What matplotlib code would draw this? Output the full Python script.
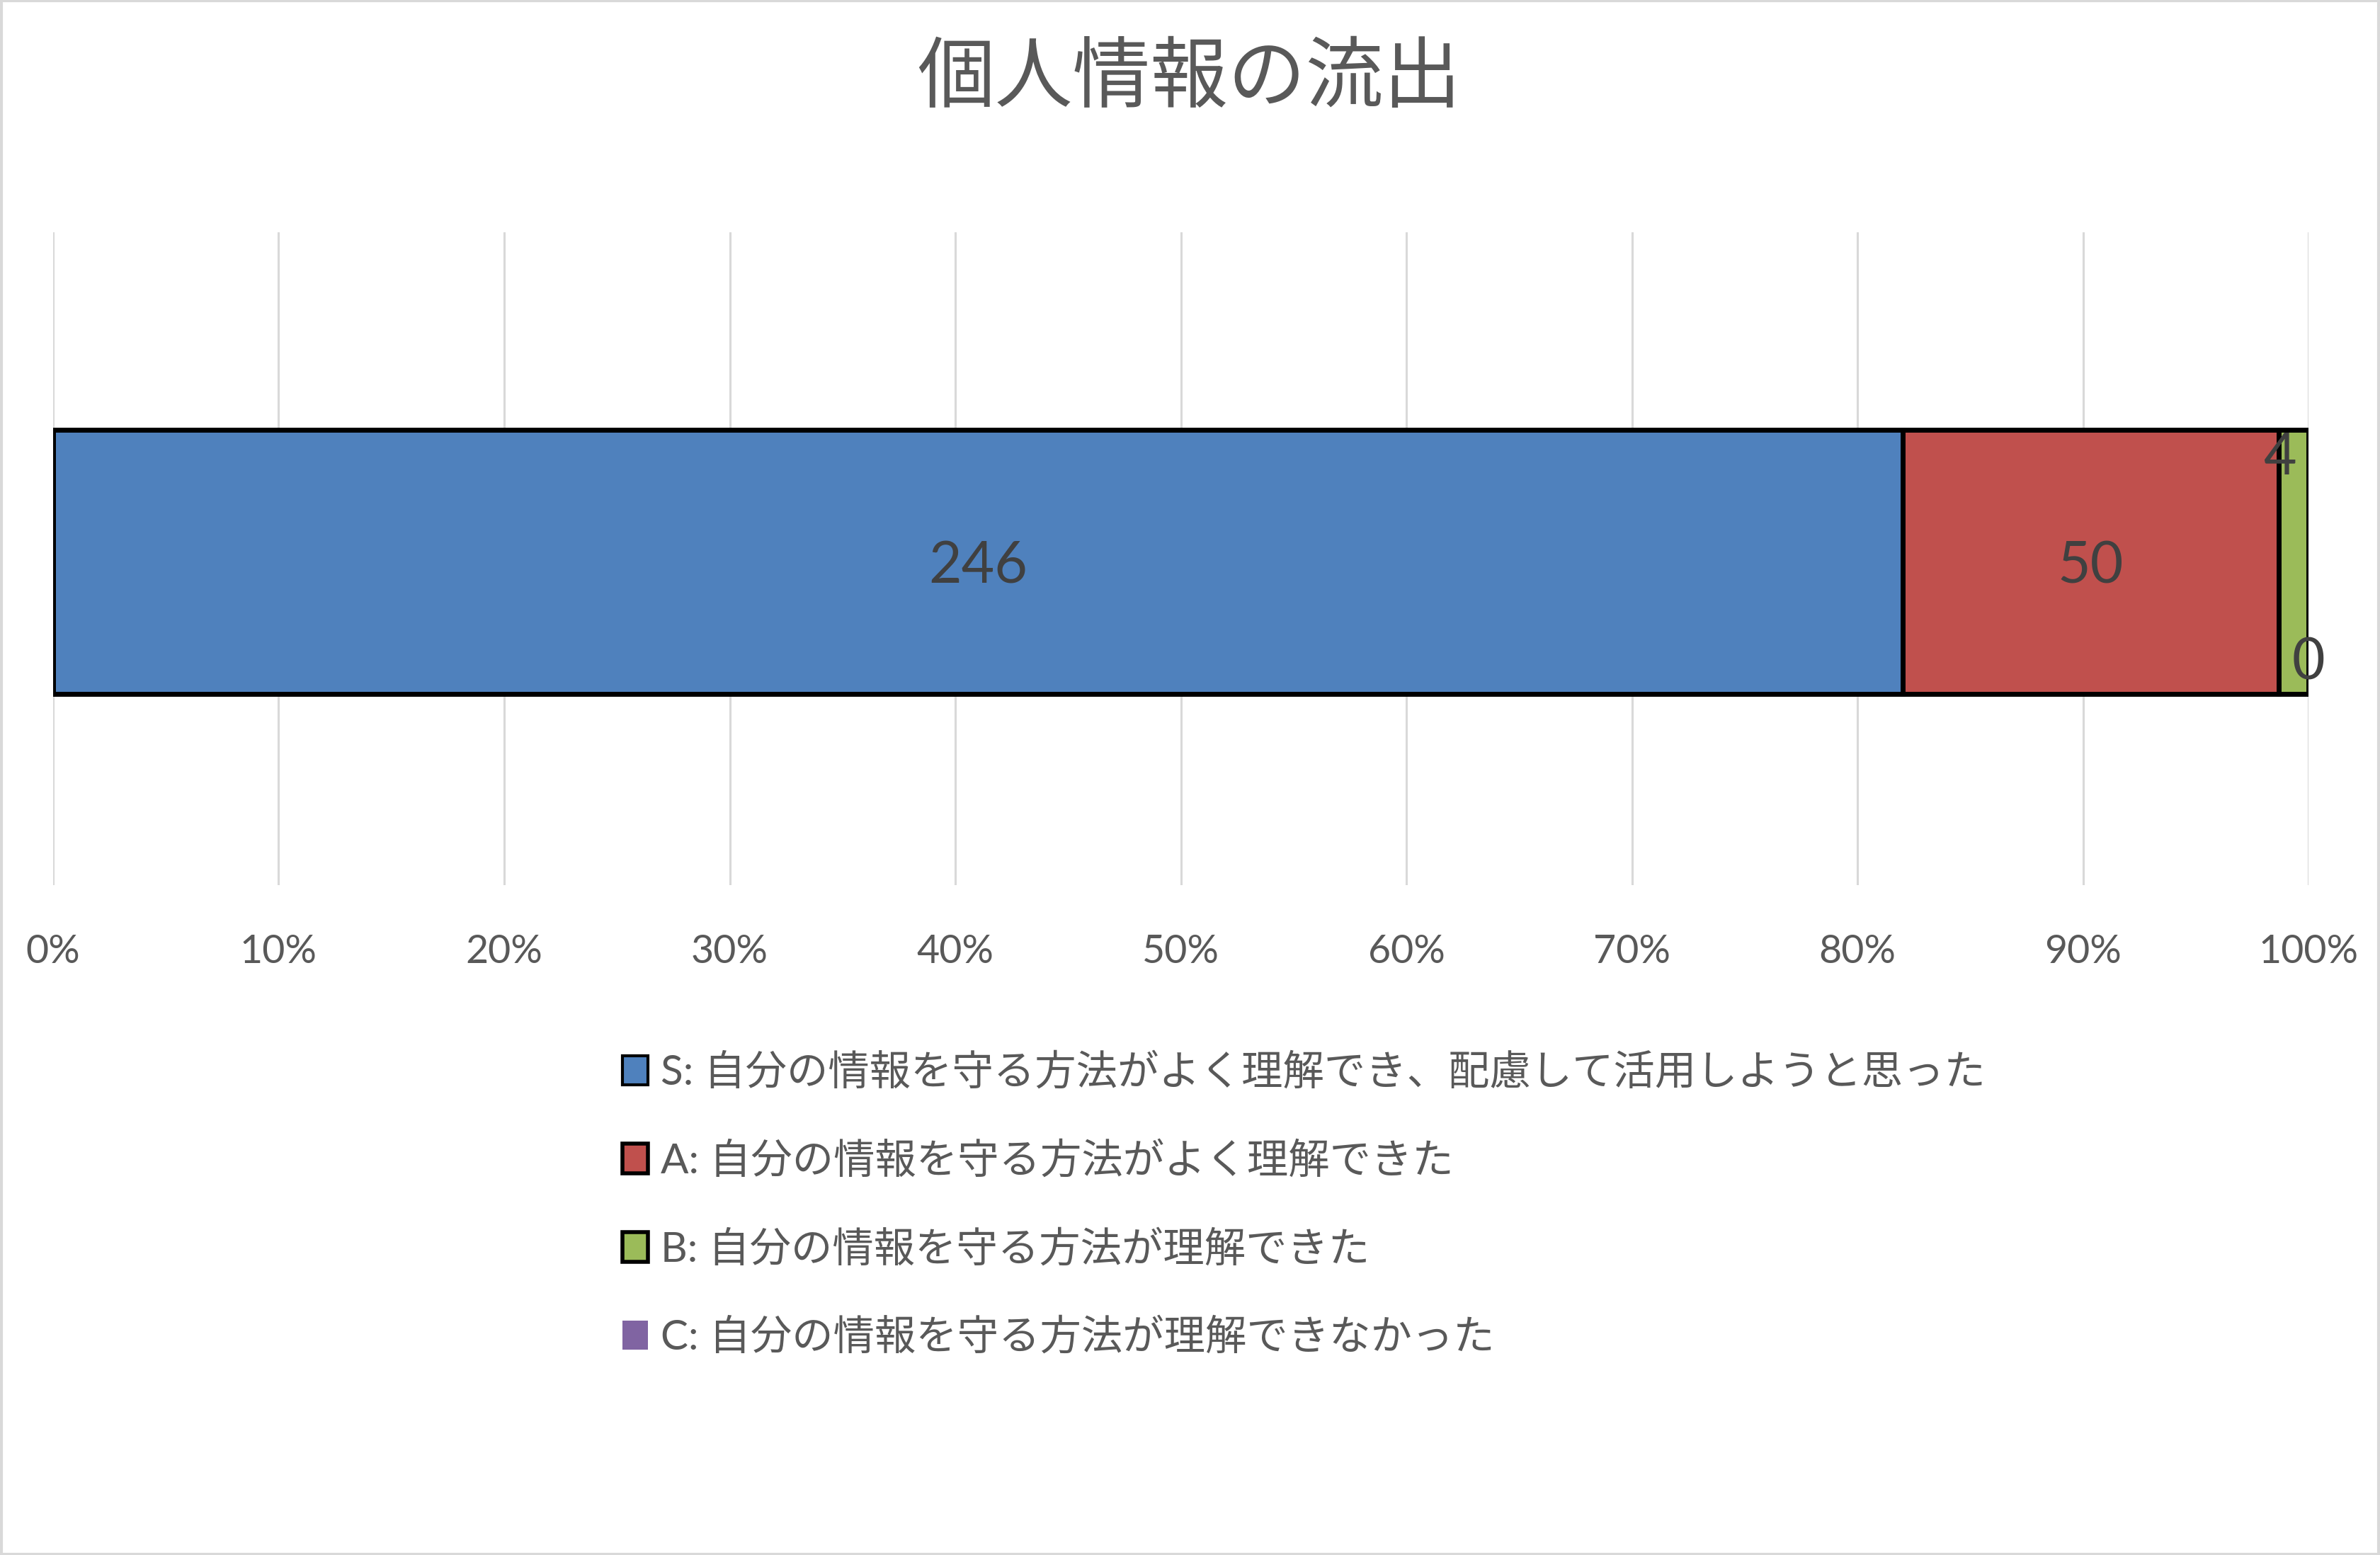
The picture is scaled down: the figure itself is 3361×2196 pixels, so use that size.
import matplotlib
matplotlib.use("Agg")
import matplotlib.pyplot as plt
import matplotlib.patches as mpatches
import numpy as np

plt.rcParams["font.family"] = ["Lato", "Noto Sans CJK JP", "DejaVu Sans"]

TITLE = "個人情報の流出"
labels = [
    "S: 自分の情報を守る方法がよく理解でき、配慮して活用しようと思った",
    "A: 自分の情報を守る方法がよく理解できた",
    "B: 自分の情報を守る方法が理解できた",
    "C: 自分の情報を守る方法が理解できなかった",
]
counts = [246, 50, 4, 0]
colors = ["#4F81BD", "#C0504D", "#9BBB59", "#8064A2"]
ticks = np.arange(0, 1.01, 0.1)
tick_labels = [f"{int(round(t * 100))}%" for t in ticks]

TEXT = "#595959"
LABEL = "#404040"

fig = plt.figure(figsize=(33.61, 21.96), dpi=100)
ax = fig.add_axes([0.0223, 0.4308, 0.9477, 0.4198])

total = sum(counts)
shares = [c / total for c in counts]
lefts = np.concatenate([[0], np.cumsum(shares)[:-1]])
bar_y = -0.005
bar_h = 0.404

for i, (s, l, c) in enumerate(zip(shares, lefts, colors)):
    if counts[i] == 0:
        continue
    ax.barh(bar_y, s, left=l, height=bar_h, color=c, edgecolor="black",
            linewidth=5, zorder=3)

# data labels (Excel puts the tiny ones at odd spots)
label_pos = [(0, -0.012, 0), (0, -0.012, 0), (-14, 0.154, 0), (0, -0.16, 1)]
for i, (dx, y, edge) in enumerate(label_pos):
    x = lefts[i] + shares[i] if edge else lefts[i] + shares[i] / 2
    ax.annotate(str(counts[i]), (x, y), xytext=(dx, 0), textcoords="offset points",
                ha="center", va="center", fontsize=58, color=LABEL, zorder=4)

ax.set_xlim(0, 1)
ax.set_ylim(-0.5, 0.5)
ax.set_xticks(ticks)
ax.set_xticklabels(tick_labels)
ax.set_yticks([])
ax.tick_params(axis="x", length=0, pad=50, labelsize=40, labelcolor=TEXT)
ax.grid(axis="x", color="#D9D9D9", linewidth=2.2, zorder=0)
for sp in ax.spines.values():
    sp.set_visible(False)

fig.text(0.4995, 0.949, TITLE, ha="center", va="center", fontsize=79,
         color=TEXT, family=["Noto Sans CJK JP"])

handles = []
for i, c in enumerate(colors):
    if counts[i] == 0:
        handles.append(mpatches.Patch(facecolor=c, edgecolor="none"))
    else:
        handles.append(mpatches.Patch(facecolor=c, edgecolor="black",
                                      linewidth=4 if i else 3))
leg = fig.legend(handles, labels, loc="upper left",
                 bbox_to_anchor=(0.2615, 1 - 1487 / 2196), frameon=False,
                 fontsize=42, handlelength=0.62, handleheight=0.72,
                 handletextpad=0.3, labelspacing=1.2, borderpad=0,
                 borderaxespad=0)
for t in leg.get_texts():
    t.set_color(TEXT)

fig.add_artist(mpatches.Rectangle((0.0005, 0.0005), 0.999, 0.999,
                                  transform=fig.transFigure, fill=False,
                                  edgecolor="#D9D9D9", linewidth=3))

fig.savefig("out.png", dpi=100)
plt.close(fig)
